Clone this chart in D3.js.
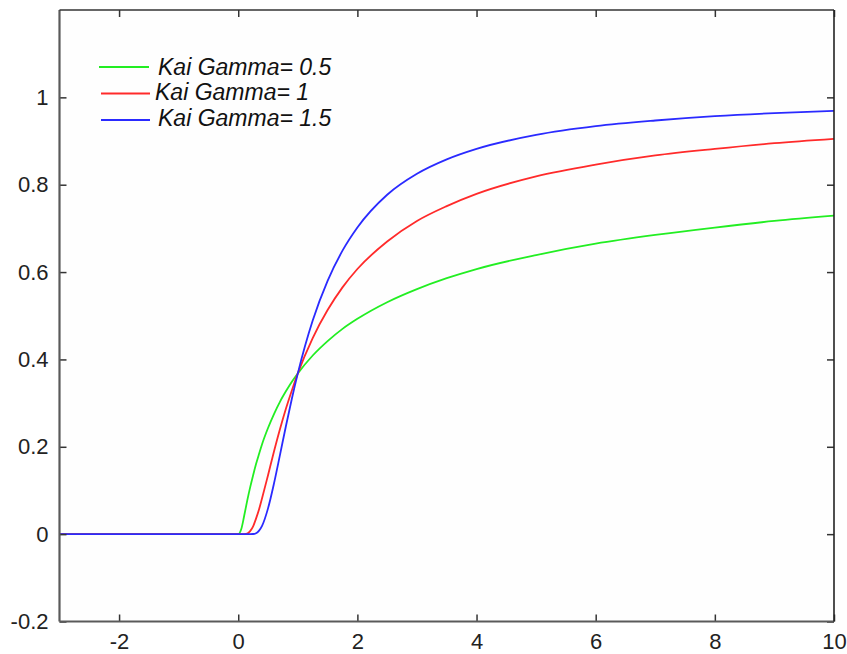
<!DOCTYPE html>
<html>
<head>
<meta charset="utf-8">
<script src="https://cdn.jsdelivr.net/npm/d3@7"></script>
<style>
  html, body { margin: 0; padding: 0; background: #ffffff; }
  svg { display: block; }
  .tick-label { font-family: "Liberation Sans", Arial, sans-serif; font-size: 22px; fill: #222; }
  .legend-text { font-family: "Liberation Sans", Arial, sans-serif; font-size: 23px; font-style: italic; fill: #111; }
</style>
</head>
<body>
<script>
// ---- data ----
const xValues = [-3, 0, 0.05, 0.1, 0.15, 0.2, 0.25, 0.3, 0.35, 0.4, 0.5, 0.6, 0.7, 0.8, 0.9, 1, 1.25, 1.5, 1.75, 2, 2.5, 3, 3.5, 4, 5, 6, 7, 8, 9, 10];
const gamma05 = [0, 0, 0.011, 0.042, 0.076, 0.107, 0.135, 0.161, 0.184, 0.206, 0.243, 0.275, 0.303, 0.327, 0.349, 0.368, 0.409, 0.442, 0.470, 0.493, 0.531, 0.561, 0.586, 0.607, 0.639, 0.665, 0.685, 0.702, 0.717, 0.729];
const gamma1  = [0, 0, 0, 0, 0.001, 0.007, 0.018, 0.036, 0.057, 0.082, 0.135, 0.189, 0.240, 0.287, 0.329, 0.368, 0.449, 0.513, 0.565, 0.607, 0.670, 0.717, 0.751, 0.779, 0.819, 0.846, 0.867, 0.882, 0.895, 0.905];
const gamma15 = [0, 0, 0, 0, 0, 0, 0.0003, 0.002, 0.008, 0.019, 0.059, 0.116, 0.181, 0.247, 0.310, 0.368, 0.489, 0.580, 0.649, 0.702, 0.777, 0.825, 0.858, 0.882, 0.914, 0.934, 0.947, 0.957, 0.964, 0.969];
const seriesNames = ["Kai Gamma= 0.5", "Kai Gamma= 1", "Kai Gamma= 1.5"];
const seriesColors = ["#22ee22", "#ff2a2a", "#2a2aff"];
const xTicks = [-2, 0, 2, 4, 6, 8, 10];
const yTicks = [-0.2, 0, 0.2, 0.4, 0.6, 0.8, 1];

const seriesValues = [gamma05, gamma1, gamma15];

// ---- layout ----
const W = 847, H = 654;
const pLeft = 59.5, pRight = 834, pTop = 10, pBottom = 621.5;

const svg = d3.select("body").append("svg").attr("width", W).attr("height", H);

const x = d3.scaleLinear().domain([-3, 10]).range([pLeft, pRight]);
const y = d3.scaleLinear().domain([-0.2, 1.2]).range([pBottom, pTop]);

// background of plot
svg.append("rect").attr("x", pLeft).attr("y", pTop).attr("width", pRight - pLeft).attr("height", pBottom - pTop).attr("fill", "#fefefe");

// ---- lines ----
const line = d3.line().x((d) => x(d[0])).y((d) => y(d[1])).curve(d3.curveMonotoneX);
seriesValues.forEach((vals, i) => {
  const pts = xValues.map((xv, k) => [xv, vals[k]]);
  svg.append("path")
    .datum(pts)
    .attr("d", line)
    .attr("fill", "none")
    .attr("stroke", seriesColors[i])
    .attr("stroke-width", 1.8);
});

// ---- axes (box) ----
const tickLen = 7;
const axisColor = "#5a5a5a";
const xAxisB = d3.axisBottom(x).tickValues(xTicks).tickSize(-tickLen).tickFormat((d) => String(d)).tickPadding(12);
const gB = svg.append("g").attr("transform", `translate(0,${pBottom})`).call(xAxisB);
const xAxisT = d3.axisTop(x).tickValues(xTicks).tickSize(-tickLen).tickFormat("");
const gT = svg.append("g").attr("transform", `translate(0,${pTop})`).call(xAxisT);
const yAxisL = d3.axisLeft(y).tickValues(yTicks).tickSize(-tickLen).tickFormat((d) => String(+d.toFixed(1))).tickPadding(11);
const gL = svg.append("g").attr("transform", `translate(${pLeft},0)`).call(yAxisL);
const yAxisR = d3.axisRight(y).tickValues(yTicks).tickSize(-tickLen).tickFormat("");
const gR = svg.append("g").attr("transform", `translate(${pRight},0)`).call(yAxisR);

[gB, gT, gL, gR].forEach((g) => {
  g.attr("font-size", null).attr("font-family", null);
  g.select(".domain").remove();
  g.selectAll(".tick line").attr("stroke", "#333").attr("stroke-width", 1.5);
  g.selectAll("text").attr("class", "tick-label").attr("fill", "#222");
});
gB.selectAll("text").attr("dy", "0.71em");

// frame lines
svg.append("line").attr("x1", pLeft).attr("x2", pLeft).attr("y1", pTop).attr("y2", pBottom).attr("stroke", axisColor).attr("stroke-width", 2.2);
svg.append("line").attr("x1", pLeft).attr("x2", pRight).attr("y1", pBottom).attr("y2", pBottom).attr("stroke", axisColor).attr("stroke-width", 2.2);
svg.append("line").attr("x1", pLeft).attr("x2", pRight).attr("y1", pTop).attr("y2", pTop).attr("stroke", "#333").attr("stroke-width", 1.6);
svg.append("line").attr("x1", pRight).attr("x2", pRight).attr("y1", pTop).attr("y2", pBottom).attr("stroke", "#222").attr("stroke-width", 1.6);

// ---- legend ----
const legendLineY = [67, 93.5, 120];
const legendTextY = [75, 100, 126];
const legendLineX = [[99, 149], [101, 150], [101, 150]];
const legendTextX = [158, 155, 158];
seriesNames.forEach((name, i) => {
  svg.append("line")
    .attr("x1", legendLineX[i][0]).attr("x2", legendLineX[i][1])
    .attr("y1", legendLineY[i]).attr("y2", legendLineY[i])
    .attr("stroke", seriesColors[i]).attr("stroke-width", 1.8);
  svg.append("text")
    .attr("class", "legend-text")
    .attr("x", legendTextX[i]).attr("y", legendTextY[i])
    .text(name);
});
</script>
</body>
</html>
